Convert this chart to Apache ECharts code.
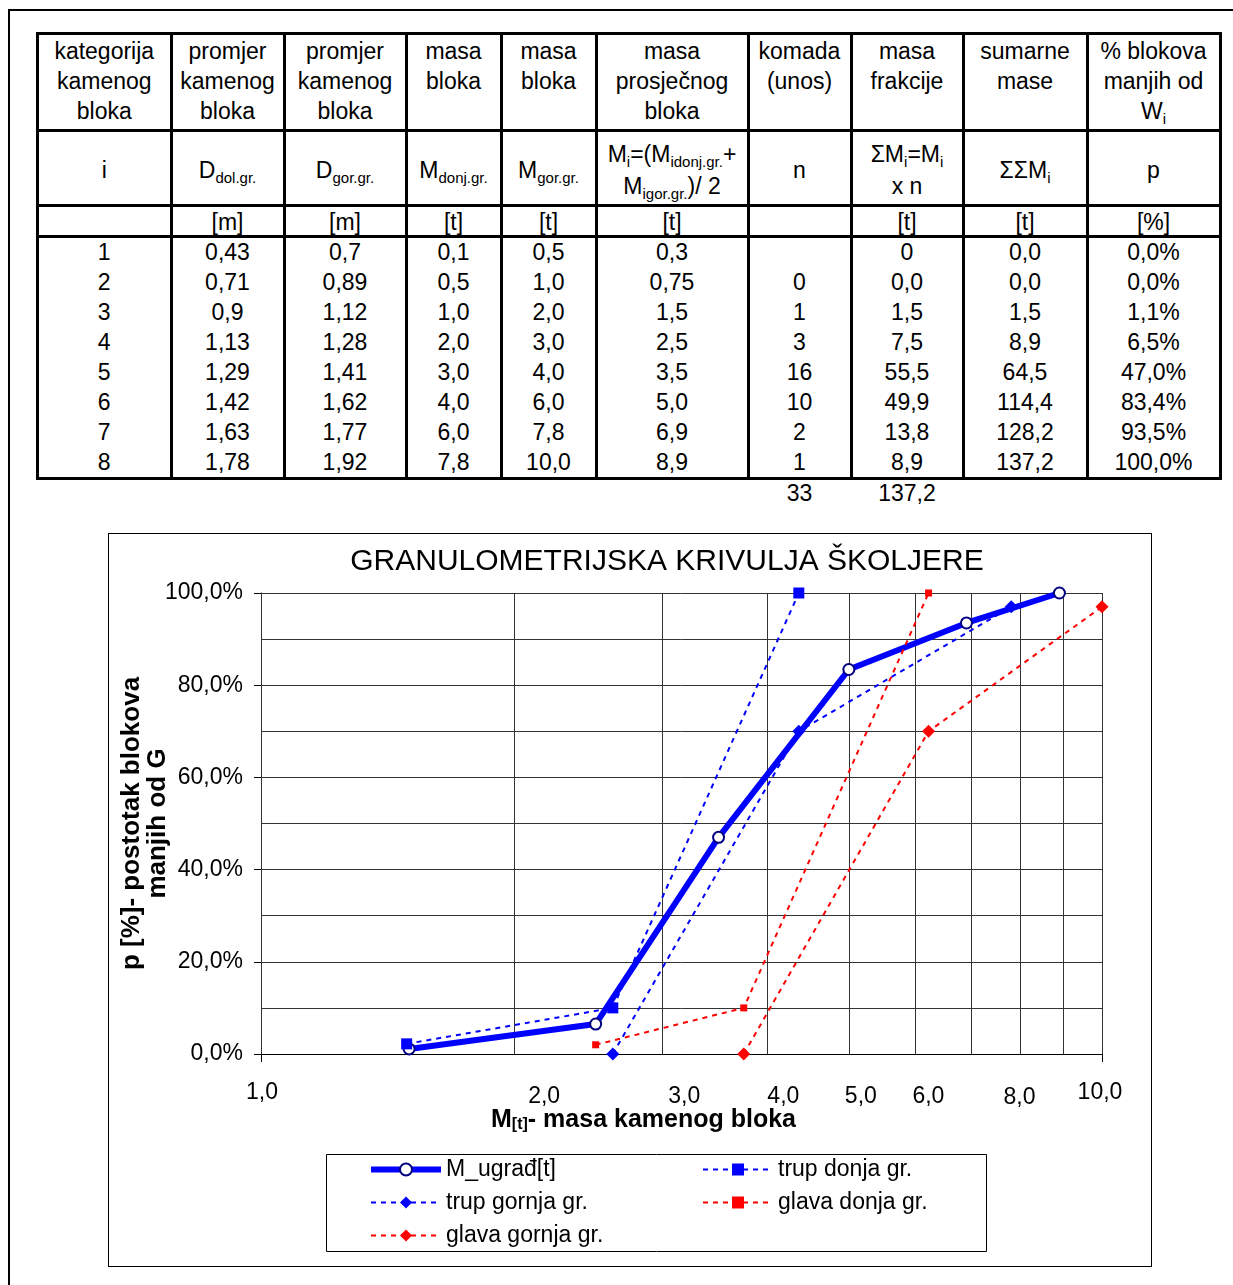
<!DOCTYPE html>
<html><head><meta charset="utf-8">
<script src="https://cdn.jsdelivr.net/npm/echarts@6/dist/echarts.min.js"></script>
<style>
html,body{margin:0;padding:0;background:#fff;}
body{width:1233px;height:1285px;position:relative;overflow:hidden;font-family:"Liberation Sans",Arial,sans-serif;color:#000;}
.ln{position:absolute;background:#000;}
.tx{position:absolute;text-align:center;font-size:23px;white-space:nowrap;}
.tx sub{font-size:15px;vertical-align:-5px;line-height:0;}
#chart{position:absolute;left:108px;top:533px;width:1042px;height:732px;border:1px solid #000;}
</style></head>
<body>
<div id="page"></div>
<div id="chart"></div>
<script>
// ---------- DATA ----------
const head1 = ['kategorija<br>kamenog<br>bloka','promjer<br>kamenog<br>bloka','promjer<br>kamenog<br>bloka','masa<br>bloka','masa<br>bloka','masa<br>prosječnog<br>bloka','komada<br>(unos)','masa<br>frakcije','sumarne<br>mase','% blokova<br>manjih od<br>W<sub>i</sub>'];
const head2 = ['i','D<sub>dol.gr.</sub>','D<sub>gor.gr.</sub>','M<sub>donj.gr.</sub>','M<sub>gor.gr.</sub>','M<sub>i</sub>=(M<sub>idonj.gr.</sub>+<br>M<sub>igor.gr.</sub>)/ 2','n','ΣM<sub>i</sub>=M<sub>i</sub><br>x n','ΣΣM<sub>i</sub>','p'];
const units = ['','[m]','[m]','[t]','[t]','[t]','','[t]','[t]','[%]'];
const catI   = ['1','2','3','4','5','6','7','8'];
const dDol   = ['0,43','0,71','0,9','1,13','1,29','1,42','1,63','1,78'];
const dGor   = ['0,7','0,89','1,12','1,28','1,41','1,62','1,77','1,92'];
const mDonj  = ['0,1','0,5','1,0','2,0','3,0','4,0','6,0','7,8'];
const mGor   = ['0,5','1,0','2,0','3,0','4,0','6,0','7,8','10,0'];
const mAvg   = ['0,3','0,75','1,5','2,5','3,5','5,0','6,9','8,9'];
const nKom   = ['','0','1','3','16','10','2','1'];
const mFrak  = ['0','0,0','1,5','7,5','55,5','49,9','13,8','8,9'];
const sumM   = ['0,0','0,0','1,5','8,9','64,5','114,4','128,2','137,2'];
const pPct   = ['0,0%','0,0%','1,1%','6,5%','47,0%','83,4%','93,5%','100,0%'];
const totals = ['','','','','','','33','137,2','',''];

const trupDonjaM  = [1.49, 2.62, 4.36];  const trupDonjaP  = [2.2, 10, 100];
const trupGornjaM = [2.62, 4.36, 7.8];   const trupGornjaP = [0, 70, 97];
const glavaDonjaM = [2.5, 3.75, 6.22];   const glavaDonjaP = [2, 10, 100];
const glavaGornjaM= [3.75, 6.22, 10];    const glavaGornjaP= [0, 70, 97];

const xGridValues  = [1,2,3,4,5,6,7,8,9,10];
const xLabelValues = [1,2,3,4,5,6,8,10];
const seriesNames = ['M_ugrađ[t]','trup donja gr.','trup gornja gr.','glava donja gr.','glava gornja gr.'];

// ---------- TABLE (HTML) ----------
const page = document.getElementById('page');
const colX = [37.5,171,284,406,501,596,748,851,963,1087,1220];
const hLines = [33.5,130.5,205.7,236.7,478];
function addLine(x,y,w,h){const d=document.createElement('div');d.className='ln';d.style.cssText=`left:${x}px;top:${y}px;width:${w}px;height:${h}px`;page.appendChild(d);}
function addText(html,c,top,lh){const d=document.createElement('div');d.className='tx';d.innerHTML=html;
  d.style.cssText=`left:${colX[c]}px;width:${colX[c+1]-colX[c]}px;top:${top}px;line-height:${lh}px`;page.appendChild(d);}
addLine(8,9,1225,2); addLine(8,9,2,1276);
hLines.forEach(y=>addLine(colX[0]-1.5,y-1.5,colX[10]-colX[0]+3,3));
colX.forEach(x=>addLine(x-1.5,hLines[0]-1.5,3,hLines[4]-hLines[0]+3));
const cols = [catI,dDol,dGor,mDonj,mGor,mAvg,nKom,mFrak,sumM,pPct];
for(let c=0;c<10;c++){
  addText(head1[c],c,36,30);
  const nl = head2[c].split('<br>').length;
  addText(head2[c],c,169.5-nl*16,32);
  addText(units[c],c,221.5-15,30);
  cols[c].forEach((s,k)=>addText(s,c,252+30*k-15,30));
  addText(totals[c],c,493-15,30);
}

// ---------- CHART ----------
const num = s => parseFloat(s.replace(',','.'));
const fmt1 = v => v.toFixed(1).replace('.',',');
const xMin = 1, xMax = 10;
const ugrad = mAvg.map((s,i)=>[num(s),num(pPct[i])]).filter(d=>d[0]>=xMin);
const zip = (a,b)=>a.map((v,i)=>[v,b[i]]);
const FONT = '"Liberation Sans", Arial, sans-serif';
const labelNudge = {1:[1,0],2:[30,4],3:[22,4],4:[16,4],5:[12,4],6:[13,4],8:[-1,5],10:[-2,0]};
const gridMarks = xGridValues.map(v=>{
  const n = labelNudge[v] || [0,0];
  return {xAxis:v, label:{show:xLabelValues.includes(v), formatter:fmt1(v),
    padding:[n[1], n[0]<0?-2*n[0]:0, 0, n[0]>0?2*n[0]:0]}};
});
const dotted = [5,5];
const legendText = {fontSize:23, color:'#000', lineHeight:23, fontFamily:FONT};
const chart = echarts.init(document.getElementById('chart'), null, {renderer:'canvas'});
chart.setOption({
  animation:false,
  textStyle:{fontFamily:FONT},
  title:{text:'GRANULOMETRIJSKA KRIVULJA ŠKOLJERE', left:558, top:28, textAlign:'center', textVerticalAlign:'middle', padding:0,
    textStyle:{fontSize:30, fontWeight:'normal', color:'#000', fontFamily:FONT}},
  grid:{left:152, top:59, width:841, height:461, outerBoundsMode:'none', containLabel:false},
  xAxis:{type:'log', logBase:10, min:xMin, max:xMax,
    axisLine:{show:true, onZero:false, lineStyle:{color:'#000', width:1}},
    axisTick:{show:true, length:8, lineStyle:{color:'#000'}},
    axisLabel:{show:false}, splitLine:{show:false},
    name:'{m|M}{s|[t]}{m|- masa kamenog bloka}', nameLocation:'middle', nameGap:53, nameMoveOverlap:false,
    nameTextStyle:{fontSize:25, fontWeight:'bold', color:'#000', padding:[0,76,0,0],
      rich:{m:{fontSize:25, fontWeight:'bold', color:'#000', fontFamily:FONT}, s:{fontSize:16, fontWeight:'bold', color:'#000', fontFamily:FONT, padding:[10,0,0,0]}}}},
  yAxis:{type:'value', min:0, max:100, interval:20,
    axisLine:{show:true, lineStyle:{color:'#000', width:1}},
    axisTick:{show:true, length:7, lineStyle:{color:'#000'}},
    axisLabel:{fontSize:23, color:'#000', margin:18, formatter:v=>fmt1(v)+'%'},
    splitLine:{show:true, lineStyle:{color:'#333', width:1}},
    minorTick:{show:false, splitNumber:2},
    minorSplitLine:{show:true, lineStyle:{color:'#333', width:1}},
    name:'p [%]- postotak blokova\nmanjih od G', nameLocation:'middle', nameGap:90, nameMoveOverlap:false,
    nameTextStyle:{fontSize:26, fontWeight:'bold', color:'#000', lineHeight:26}},
  legend:[
    {orient:'vertical', left:259, top:624, padding:0, itemGap:10, itemWidth:70, itemHeight:15, selectedMode:false,
     textStyle:legendText,
     data:[{name:seriesNames[0], lineStyle:{width:6, color:'#0000FF'}}, seriesNames[2], seriesNames[4]]},
    {orient:'vertical', left:593, top:624, padding:0, itemGap:10, itemWidth:70, itemHeight:15, selectedMode:false,
     textStyle:legendText, data:[seriesNames[1],seriesNames[3]]}
  ],
  graphic:[{type:'rect', left:215, top:618, silent:true, shape:{width:660, height:97}, style:{fill:'none', stroke:'#000', lineWidth:1}}],
  series:[
    {name:seriesNames[0], type:'line', data:ugrad, symbol:'circle', symbolSize:11,
     lineStyle:{color:'#0000FF', width:6}, itemStyle:{color:'#FFFFFF', borderColor:'#000080', borderWidth:2},
     markLine:{silent:true, z:1, symbol:['none','none'], animation:false,
       lineStyle:{color:'#333', width:1, type:'solid'},
       label:{position:'start', distance:27, fontSize:23, color:'#000', fontFamily:FONT},
       emphasis:{disabled:true}, data:gridMarks}},
    {name:seriesNames[1], type:'line', data:zip(trupDonjaM,trupDonjaP), symbol:'rect', symbolSize:11,
     lineStyle:{color:'#0000FF', width:2, type:dotted}, itemStyle:{color:'#0000FF'}},
    {name:seriesNames[2], type:'line', data:zip(trupGornjaM,trupGornjaP), symbol:'diamond', symbolSize:13,
     lineStyle:{color:'#0000FF', width:2, type:dotted}, itemStyle:{color:'#0000FF'}},
    {name:seriesNames[3], type:'line', data:zip(glavaDonjaM,glavaDonjaP), symbol:'rect', symbolSize:7,
     lineStyle:{color:'#FF0000', width:2, type:dotted}, itemStyle:{color:'#FF0000'}},
    {name:seriesNames[4], type:'line', data:zip(glavaGornjaM,glavaGornjaP), symbol:'diamond', symbolSize:13,
     lineStyle:{color:'#FF0000', width:2, type:dotted}, itemStyle:{color:'#FF0000'}}
  ]
});
</script>
</body></html>
